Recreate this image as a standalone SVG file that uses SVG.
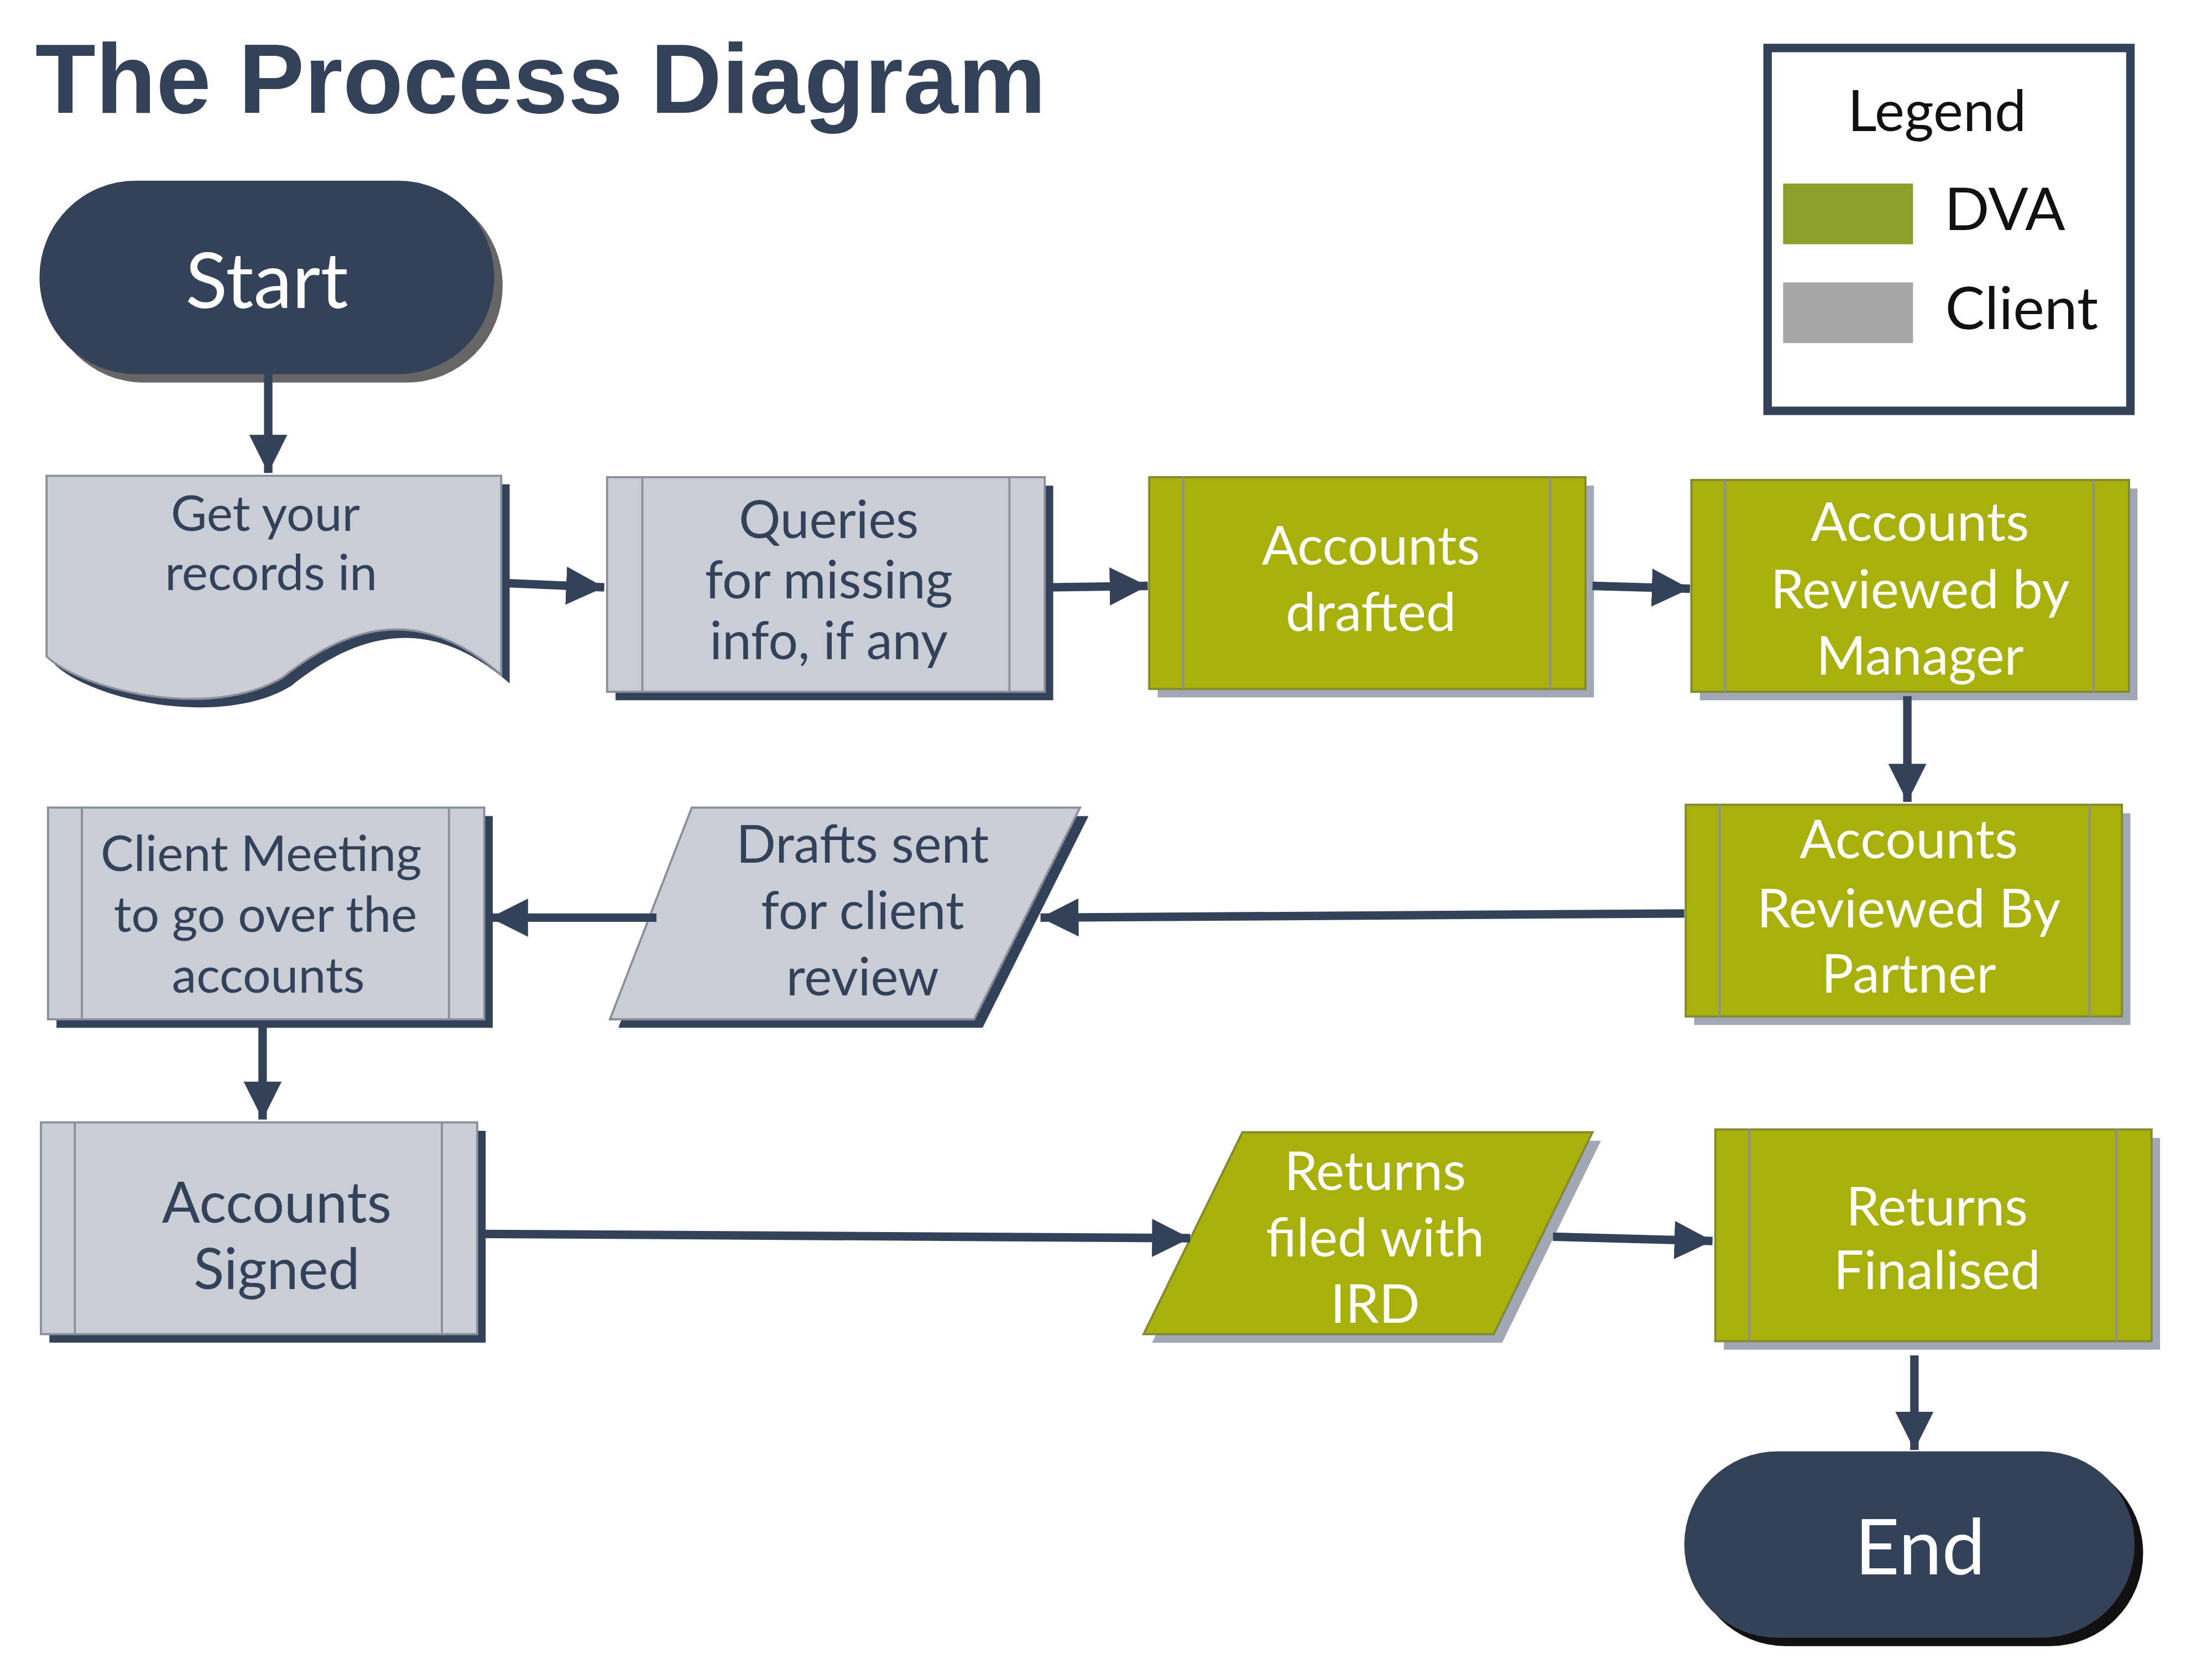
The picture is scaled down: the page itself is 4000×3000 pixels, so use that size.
<svg xmlns="http://www.w3.org/2000/svg" width="4000" height="3000" viewBox="0 0 4000 3000">
<style>
.t{font-family:Lato,"Open Sans",sans-serif;text-anchor:middle}
.dk{fill:#334259}
.cl{fill:#c9cdd6;stroke:#8a8f9a;stroke-width:1.5}
.dv{fill:#a8b00c;stroke:#7f8a33;stroke-width:1.5}
.sd{fill:#334259}
.sg{fill:#a2a7b5}
.in{stroke:#8a8f9a;stroke-width:1.5}
.ct{fill:#334259;font-size:37px}
.wt{fill:#ffffff;font-size:38px}
.c{stroke:#334259;stroke-width:6;fill:none;marker-end:url(#a)}
</style>
<defs><marker id="a" viewBox="0 0 10 10" refX="10" refY="5" markerWidth="4.5" markerHeight="4.5" orient="auto"><path d="M0,0 L10,5 L0,10 Z" fill="#334259"/></marker></defs>
<rect width="4000" height="3000" fill="#fff"/>
<g transform="scale(2.553)">
<text class="t" x="25" y="80" style="text-anchor:start;font-weight:bold;font-size:70px;fill:#334259;font-family:'Liberation Sans',Arial,sans-serif">The Process Diagram</text>
<g id="legend"><rect x="1252" y="34" width="257" height="257" fill="#fff" stroke="#334259" stroke-width="6"/>
<text class="t" x="1372" y="93" style="font-size:40px;fill:#111">Legend</text>
<rect x="1263" y="130" width="92" height="43" fill="#8c9f2a"/><text class="t" x="1420" y="163" style="font-size:42px;fill:#111">DVA</text>
<rect x="1263" y="200" width="92" height="43" fill="#a6a6a6"/><text class="t" x="1432" y="233" style="font-size:42px;fill:#111">Client</text></g>
<g id="start"><rect x="34" y="134" width="322" height="137" rx="68" fill="#666"/><rect x="28" y="128" width="322" height="137" rx="68" class="dk"/><text class="t" x="189" y="218" style="fill:#fff;font-size:55px">Start</text></g>
<g id="get"><path class="sd" d="M39,343 H361 V484 C306,436 256,446 206,486 C156,516 66,496 39,471 Z"/><path class="cl" d="M33,337 H355 V478 C300,430 250,440 200,480 C150,510 60,490 33,465 Z"/>
<text class="t ct" x="188" y="376" style="font-size:35px">Get your</text><text class="t ct" x="192" y="418" style="font-size:35px">records in</text></g>
<g id="queries"><rect class="sd" x="436" y="344" width="310" height="152"/><rect class="cl" x="430" y="338" width="310" height="152"/><line class="in" x1="455" y1="338" x2="455" y2="490"/><line class="in" x1="715" y1="338" x2="715" y2="490"/>
<text class="t ct" x="587" y="381">Queries</text><text class="t ct" x="587" y="424">for missing</text><text class="t ct" x="587" y="467">info, if any</text></g>
<g id="drafted"><rect class="sg" x="820" y="344" width="309" height="150"/><rect class="dv" x="814" y="338" width="309" height="150"/><line class="in" x1="838" y1="338" x2="838" y2="488"/><line class="in" x1="1098" y1="338" x2="1098" y2="488"/>
<text class="t wt" x="971" y="400">Accounts</text><text class="t wt" x="971" y="447">drafted</text></g>
<g id="manager"><rect class="sg" x="1204" y="346" width="310" height="150"/><rect class="dv" x="1198" y="340" width="310" height="150"/><line class="in" x1="1222" y1="340" x2="1222" y2="490"/><line class="in" x1="1483" y1="340" x2="1483" y2="490"/>
<text class="t wt" x="1360" y="383">Accounts</text><text class="t wt" x="1360" y="431">Reviewed by</text><text class="t wt" x="1360" y="478">Manager</text></g>
<g id="partner"><rect class="sg" x="1200" y="576" width="309" height="150"/><rect class="dv" x="1194" y="570" width="309" height="150"/><line class="in" x1="1218" y1="570" x2="1218" y2="720"/><line class="in" x1="1480" y1="570" x2="1480" y2="720"/>
<text class="t wt" x="1352" y="608">Accounts</text><text class="t wt" x="1352" y="657">Reviewed By</text><text class="t wt" x="1352" y="703">Partner</text></g>
<g id="drafts"><polygon class="sd" points="496,578 771,578 696,728 438,728"/><polygon class="cl" points="490,572 765,572 690,722 432,722"/>
<text class="t ct" x="611" y="611">Drafts sent</text><text class="t ct" x="611" y="658">for client</text><text class="t ct" x="611" y="705">review</text></g>
<g id="meeting"><rect class="sd" x="40" y="578" width="309" height="150"/><rect class="cl" x="34" y="572" width="309" height="150"/><line class="in" x1="58" y1="572" x2="58" y2="722"/><line class="in" x1="318" y1="572" x2="318" y2="722"/>
<text class="t ct" x="185" y="617" style="font-size:35px">Client Meeting</text><text class="t ct" x="188" y="660" style="font-size:35px">to go over the</text><text class="t ct" x="190" y="703" style="font-size:35px">accounts</text></g>
<g id="signed"><rect class="sd" x="35" y="801" width="309" height="150"/><rect class="cl" x="29" y="795" width="309" height="150"/><line class="in" x1="53" y1="795" x2="53" y2="945"/><line class="in" x1="313" y1="795" x2="313" y2="945"/>
<text class="t ct" x="196" y="866" style="font-size:40px">Accounts</text><text class="t ct" x="196" y="913" style="font-size:40px">Signed</text></g>
<g id="filed"><polygon class="sg" points="886,808 1134,808 1064,951 816,951"/><polygon class="dv" points="880,802 1128,802 1058,945 810,945"/>
<text class="t wt" x="974" y="843">Returns</text><text class="t wt" x="974" y="890">filed with</text><text class="t wt" x="974" y="937">IRD</text></g>
<g id="finalised"><rect class="sg" x="1221" y="806" width="309" height="150"/><rect class="dv" x="1215" y="800" width="309" height="150"/><line class="in" x1="1239" y1="800" x2="1239" y2="950"/><line class="in" x1="1499" y1="800" x2="1499" y2="950"/>
<text class="t wt" x="1372" y="868">Returns</text><text class="t wt" x="1372" y="913">Finalised</text></g>
<g id="end"><rect x="1199" y="1034" width="319" height="132" rx="66" fill="#111"/><rect x="1193" y="1028" width="319" height="132" rx="66" class="dk"/><text class="t" x="1360" y="1115" style="fill:#fff;font-size:55px">End</text></g>
<g id="connectors">
<path class="c" d="M190,265 V335"/>
<path class="c" d="M358,413 L428,416"/>
<path class="c" d="M743,416 L813,415"/>
<path class="c" d="M1128,415 L1197,417"/>
<path class="c" d="M1351,493 V568"/>
<path class="c" d="M1193,647 L737,650"/>
<path class="c" d="M465,650 L347,650"/>
<path class="c" d="M186,726 V793"/>
<path class="c" d="M343,874 L843,877"/>
<path class="c" d="M1100,876 L1213,879"/>
<path class="c" d="M1356,960 V1027"/>
</g>
</g>
</svg>
